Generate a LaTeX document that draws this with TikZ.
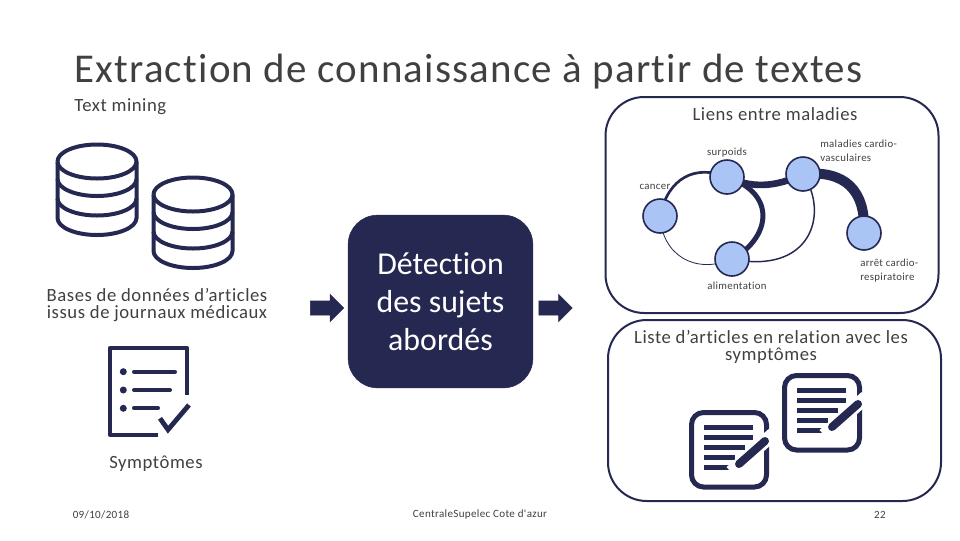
\documentclass[tikz,border=0pt]{standalone}
\usepackage{fontspec}
\setmainfont{Carlito}[Ligatures=NoCommon]
\newfontfamily\ls[LetterSpace=3,Ligatures=NoCommon]{Carlito}
\usetikzlibrary{backgrounds,shapes.arrows}
\definecolor{navy}{HTML}{252850}
\definecolor{gtxt}{HTML}{404040}
\definecolor{nodeblue}{HTML}{A9C4F5}
\tikzset{
 x=0.75pt,y=-0.75pt,
 lbl/.style={text=gtxt,inner sep=0pt,align=center,font=\ls\fontsize{14pt}{12.75pt}\selectfont},
 small/.style={text=gtxt,inner sep=0pt,align=center,font=\ls\fontsize{8.1pt}{10.5pt}\selectfont},
 foot/.style={text=gtxt,inner sep=0pt,font=\ls\fontsize{8.3pt}{10pt}\selectfont},
 panel/.style={draw=navy,line width=1.5pt,rounded corners=29pt,fill=none,inner sep=0pt},
 gnode/.style={circle,draw=navy,line width=1.2pt,fill=nodeblue,minimum size=25.5pt,inner sep=0pt},
 block/.style={single arrow,draw=navy,fill=navy,line width=0.5pt,inner xsep=0pt,inner ysep=5pt,minimum height=25pt,minimum width=20pt,single arrow head extend=4.9pt,single arrow tip angle=90},
 icon/.style={draw=navy,line width=3pt,line join=round},
 edge/.style={draw=navy},
}
\newcommand{\dbicon}[2]{%
 \begin{scope}[shift={(#1,#2)}]
 \draw[icon] (0,0) arc[start angle=180,end angle=-180,x radius=39.5,y radius=17];
 \draw[icon] (0,0) -- (0,56.5) arc[start angle=180,end angle=0,x radius=39.5,y radius=17] -- (79,0);
 \draw[icon] (0,17.5) arc[start angle=180,end angle=0,x radius=39.5,y radius=17];
 \draw[icon] (0,37) arc[start angle=180,end angle=0,x radius=39.5,y radius=17];
 \end{scope}}
\newcommand{\noteicon}[2]{%
 \begin{scope}[shift={(#1,#2)}]
 \draw[navy,line width=3.75pt,rounded corners=9pt] (2.5,2.5) rectangle (77.5,77);
 \fill[navy] (15,15) rectangle (64,20);
 \fill[navy] (15,25) rectangle (64,30);
 \fill[navy] (15,35) rectangle (56,40);
 \fill[navy] (15,45) rectangle (46,50);
 \fill[navy] (15,55) rectangle (40,60);
 \draw[white,line width=10pt] (42,62) -- (84,24);
 \draw[navy,line width=6pt,line cap=round] (50,54) -- (76,31);
 \end{scope}}
\begin{document}
\begin{tikzpicture}
\useasboundingbox (0,0) rectangle (960,540);
\node[anchor=west,text=gtxt,inner sep=0pt,font=\ls\fontsize{30.7pt}{30pt}\selectfont] (title) at (74,71.5) {Extraction de connaissance à partir de textes};
\node[anchor=west,lbl] (sub) at (74,106.5) {Text mining};

\dbicon{57.5}{161.5}
\dbicon{153.5}{194.5}
\node[lbl] (bases) at (157,305) {Bases de données d’articles\\issus de journaux médicaux};

\begin{scope}[shift={(90,335)}]
 \draw[icon] (68,100) -- (20,100) -- (20,12.7) -- (96.7,12.7) -- (96.7,60);
 \fill[navy] (33.3,36.7) circle (3.5);
 \fill[navy] (33.3,55) circle (3.5);
 \fill[navy] (33.3,73.3) circle (3.5);
 \draw[icon,line cap=round] (44,36.7) -- (85,36.7);
 \draw[icon,line cap=round] (44,55) -- (80,55);
 \draw[icon,line cap=round] (44,73.3) -- (68,73.3);
 \draw[navy,line width=3.6pt] (70,83.3) -- (78,94.7) -- (99,70);
\end{scope}
\node[lbl] (symp) at (156,464) {Symptômes};

\node[block] (a1) at (323.5,308) {};
\node[block] (a2) at (552,308) {};
\node[draw=navy,fill=navy,rounded corners=22pt,minimum width=138.5pt,minimum height=129.5pt,inner sep=0pt,text=white,align=center,font=\fontsize{23.9pt}{28.5pt}\selectfont] (det) at (440.5,301.5) {Détection\\des sujets\\abordés};

\node[panel,minimum width=249.75pt,minimum height=162pt] (p1) at (772,205) {};
\node[panel,minimum width=249.75pt,minimum height=135.75pt] (p2) at (774.5,410.5) {};
\node[lbl] (liens) at (775,114) {Liens entre maladies};
\node[lbl] (liste) at (771,347) {Liste d’articles en relation avec les\\symptômes};

\node[gnode] (surp) at (727,177) {};
\node[gnode] (mal) at (803,174) {};
\node[gnode] (canc) at (660,216) {};
\node[gnode] (alim) at (732,259) {};
\node[gnode] (arret) at (864,233) {};
\begin{scope}[on background layer]
 \draw[edge,line width=2pt] (canc.center) .. controls (668,178) and (695,164) .. (surp.center);
 \draw[edge,line width=0.6pt] (canc.center) .. controls (662,255) and (695,275) .. (alim.center);
 \draw[edge,line width=5pt] (surp.center) .. controls (750,188) and (775,188) .. (mal.center);
 \draw[edge,line width=3.75pt] (surp.center) .. controls (780,195) and (768,240) .. (alim.center);
 \draw[edge,line width=1.1pt] (mal.center) .. controls (830,215) and (810,275) .. (alim.center);
 \draw[edge,line width=7.5pt] (mal.center) .. controls (845,170) and (866,190) .. (arret.center);
\end{scope}
\node[small,font=\ls\fontsize{8.1pt}{8pt}\selectfont] (tsurp) at (727,152.5) {surpoids};
\node[small,anchor=west,align=left] (tmal) at (820,150.5) {maladies cardio-\\vasculaires};
\node[small,font=\ls\fontsize{8.1pt}{8pt}\selectfont] (tcanc) at (655,186.5) {cancer};
\node[small,font=\ls\fontsize{8.1pt}{8pt}\selectfont] (talim) at (737,285.5) {alimentation};
\node[small,anchor=west,align=left] (tarr) at (860,270.5) {arrêt cardio-\\respiratoire};

\noteicon{689}{410}
\noteicon{782}{373}

\node[foot] (date) at (101,515) {09/10/2018};
\node[foot] (org) at (480,515) {CentraleSupelec Cote d'azur};
\node[foot] (num) at (880,515) {22};
\end{tikzpicture}
\end{document}
